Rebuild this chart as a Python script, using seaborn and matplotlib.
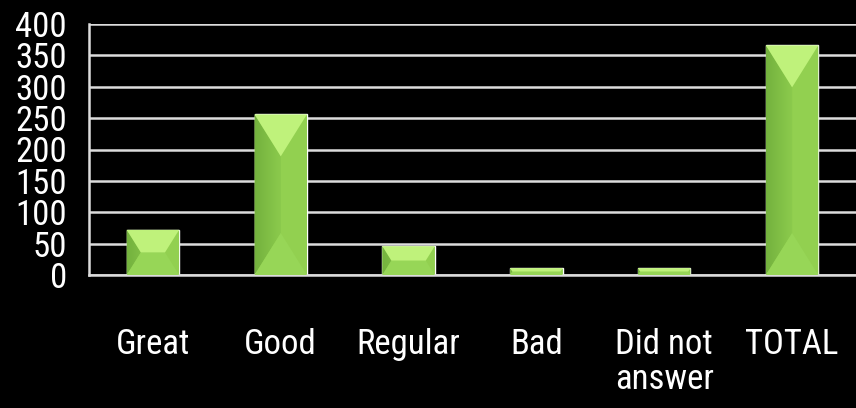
import numpy as np
import pandas as pd
import matplotlib
matplotlib.use("Agg")
import matplotlib.pyplot as plt
from matplotlib import font_manager as fm
from matplotlib.patches import Polygon
from matplotlib.colors import LinearSegmentedColormap
import seaborn as sns

# Survey answers
categories = ["Great", "Good", "Regular", "Bad", "Did not\nanswer", "TOTAL"]
responses = [72, 256, 46, 11, 11, 366]
y_ticks = [0, 50, 100, 150, 200, 250, 300, 350, 400]

FACE = "#92d050"
LEFT_DARK = "#74b23e"
LEFT_LIGHT = "#8ccb4d"
TOP = "#bff27b"
BOTTOM = "#97d657"
LINE = "#dcdcdc"


def pick_font():
    for fam in ["Liberation Sans Narrow", "Arial Narrow", "Roboto Condensed",
                "Open Sans Condensed"]:
        try:
            fm.findfont(fm.FontProperties(family=fam), fallback_to_default=False)
            return dict(family=fam)
        except ValueError:
            pass
    path = fm.findfont(fm.FontProperties(family="DejaVu Sans", stretch="condensed"))
    if "Condensed" in path:
        return dict(family="DejaVu Sans", stretch="condensed")
    return dict(family="Liberation Sans")


sns.set_style("dark", rc={"axes.facecolor": "black", "figure.facecolor": "black"})
font = pick_font()
plt.rcParams["font.family"] = [font["family"], "DejaVu Sans"]
if "stretch" in font:
    plt.rcParams["font.stretch"] = font["stretch"]

df = pd.DataFrame({"category": categories, "responses": responses})

fig = plt.figure(figsize=(8.56, 4.08), dpi=100)
ax = fig.add_axes([89 / 856, 133 / 408, 1 - 89 / 856, 251 / 408])
ax.set_facecolor("black")

sns.barplot(data=df, x="category", y="responses", color=FACE, width=0.41,
            saturation=1, ax=ax, zorder=3)

ax.set_xlim(-0.5, len(categories) - 0.5)
ax.set_ylim(0, 400)
ax.set_yticks(y_ticks)
ax.set_xlabel("")
ax.set_ylabel("")

# Grid and axes lines
ax.set_axisbelow(True)
ax.yaxis.grid(True, color=LINE, linewidth=1.8)
ax.xaxis.grid(False)
for side in ["top", "right"]:
    ax.spines[side].set_visible(False)
for side in ["left", "bottom"]:
    ax.spines[side].set_visible(True)
    ax.spines[side].set_color(LINE)
    ax.spines[side].set_linewidth(1.8)
    ax.spines[side].set_zorder(4)

ax.set_xticks(np.arange(-0.5, len(categories), 1), minor=True)
ax.tick_params(axis="x", which="major", length=0, pad=38, labelsize=25,
               labelcolor="white")
ax.tick_params(axis="x", which="minor", length=9, width=1.8, color=LINE,
               direction="out")
ax.tick_params(axis="y", which="major", length=5, width=1.8, color=LINE,
               direction="out", pad=11, labelsize=25, labelcolor="white")
for lbl in ax.get_xticklabels():
    lbl.set_multialignment("center")
    lbl.set_linespacing(1.1)

# Bevelled faces on each bar
to_px = ax.transData
to_data = ax.transData.inverted()
grad = LinearSegmentedColormap.from_list("leftface", [LEFT_DARK, LEFT_LIGHT])
for p in list(ax.patches):
    x0, y0 = p.get_x(), p.get_y()
    w, h = p.get_width(), p.get_height()
    (px0, py0) = to_px.transform((x0, y0))
    (px1, py1) = to_px.transform((x0 + w, y0 + h))
    W, H = px1 - px0, py1 - py0
    d = min(42.0, H / 2)
    inset = min(d / 1.6, W / 2)
    TL, TR = (px0, py1), (px1, py1)
    BL, BR = (px0, py0), (px1, py0)
    ITL, ITR = (px0 + inset, py1 - d), (px1 - inset, py1 - d)
    IBL, IBR = (px0 + inset, py0 + d), (px1 - inset, py0 + d)

    def poly(pts, **kw):
        return Polygon(to_data.transform(np.array(pts)), closed=True,
                       linewidth=0, **kw)

    left = poly([TL, ITL, IBL, BL], facecolor=LEFT_LIGHT, zorder=4)
    ax.add_patch(left)
    img = ax.imshow(np.linspace(0, 1, 64)[None, :], cmap=grad, aspect="auto",
                    extent=(x0, x0 + w / 2, y0, y0 + h), zorder=4.1,
                    interpolation="bilinear")
    img.set_clip_path(left)
    ax.add_patch(poly([TR, ITR, IBR, BR], facecolor=FACE, zorder=4))
    ax.add_patch(poly([BL, BR, IBR, IBL], facecolor=BOTTOM, zorder=4.2))
    ax.add_patch(poly([TL, TR, ITR, ITL], facecolor=TOP, zorder=4.2))

ax.set_xlim(-0.5, len(categories) - 0.5)
ax.set_ylim(0, 400)

fig.savefig("out.png", dpi=100, facecolor="black")
